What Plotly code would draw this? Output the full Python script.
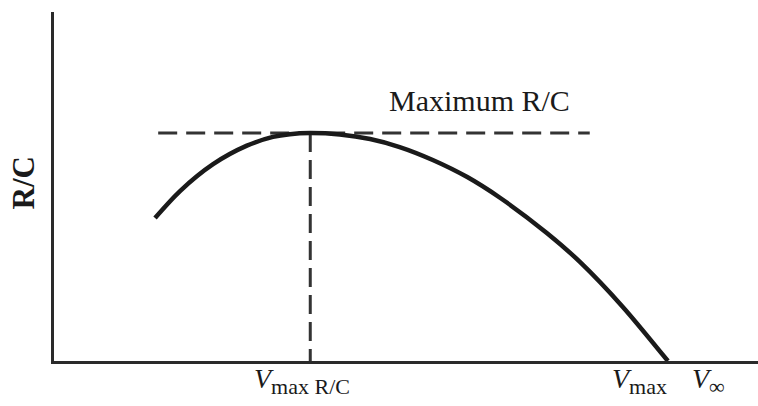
import plotly.graph_objects as go

# Curve R/C vs V (arbitrary units)
v_curve = [14.35, 17.9, 22.6, 27.4, 31.1, 33.5, 36.4, 40.6, 44.9, 49.1, 53.8, 58.7, 63.4, 70.0, 74.7, 80.8, 87.2]
rc_curve = [41.0, 48.7, 56.4, 61.7, 64.2, 65.0, 65.3, 64.9, 63.6, 61.3, 57.6, 52.7, 46.7, 36.7, 28.4, 15.5, 0.0]

v_max_rc = 36.4
rc_max = 65.3
v_max = 87.2
h_dash_x = [14.8, 76.1]

label_text = "Maximum R/C"
y_title = "R/C"
x_label_main = ["V", "V", "V"]
x_label_sub = ["max R/C", "max", "∞"]
x_label_pos = [28.1, 79.0, 90.3]

FONT = "Liberation Serif"
INK = "#1a1a1a"

fig = go.Figure()
fig.add_trace(go.Scatter(x=h_dash_x, y=[rc_max, rc_max], mode="lines",
                         line=dict(color="#333", width=3, dash="19px,9px"), hoverinfo="skip"))
fig.add_trace(go.Scatter(x=[v_max_rc, v_max_rc], y=[rc_max, 0], mode="lines",
                         line=dict(color="#333", width=3, dash="19px,8px"), hoverinfo="skip"))
fig.add_trace(go.Scatter(x=v_curve, y=rc_curve, mode="lines", line_shape="spline",
                         line=dict(color=INK, width=4.5, smoothing=0.8), hoverinfo="skip"))

fig.add_annotation(x=60.5, y=rc_max, yshift=14, text=label_text, showarrow=False,
                   xanchor="center", yanchor="bottom", font=dict(family=FONT, size=30, color=INK))
for m, s, xp in zip(x_label_main, x_label_sub, x_label_pos):
    t = "<i>" + m + "</i><sub><span style=\"font-size:22px\">" + s + "</span></sub>"
    fig.add_annotation(x=xp, y=0, yshift=0, text=t, showarrow=False, xanchor="left", yanchor="top",
                       font=dict(family=FONT, size=28, color=INK))
fig.add_annotation(xref="paper", yref="paper", x=-0.043, y=0.511, text="<b>" + y_title + "</b>",
                   textangle=-90, showarrow=False, xanchor="center", yanchor="middle",
                   font=dict(family=FONT, size=31, color=INK))

axis_common = dict(showgrid=False, zeroline=False, showticklabels=False, ticks="",
                   showline=True, linewidth=3, linecolor="#2a2a2a")
fig.update_xaxes(range=[0, 100], **axis_common)
fig.update_yaxes(range=[0, 100], **axis_common)
fig.update_layout(width=758, height=406, margin=dict(l=54, r=0, t=12, b=45),
                  plot_bgcolor="white", paper_bgcolor="white", showlegend=False)
fig.write_html("out.html")
